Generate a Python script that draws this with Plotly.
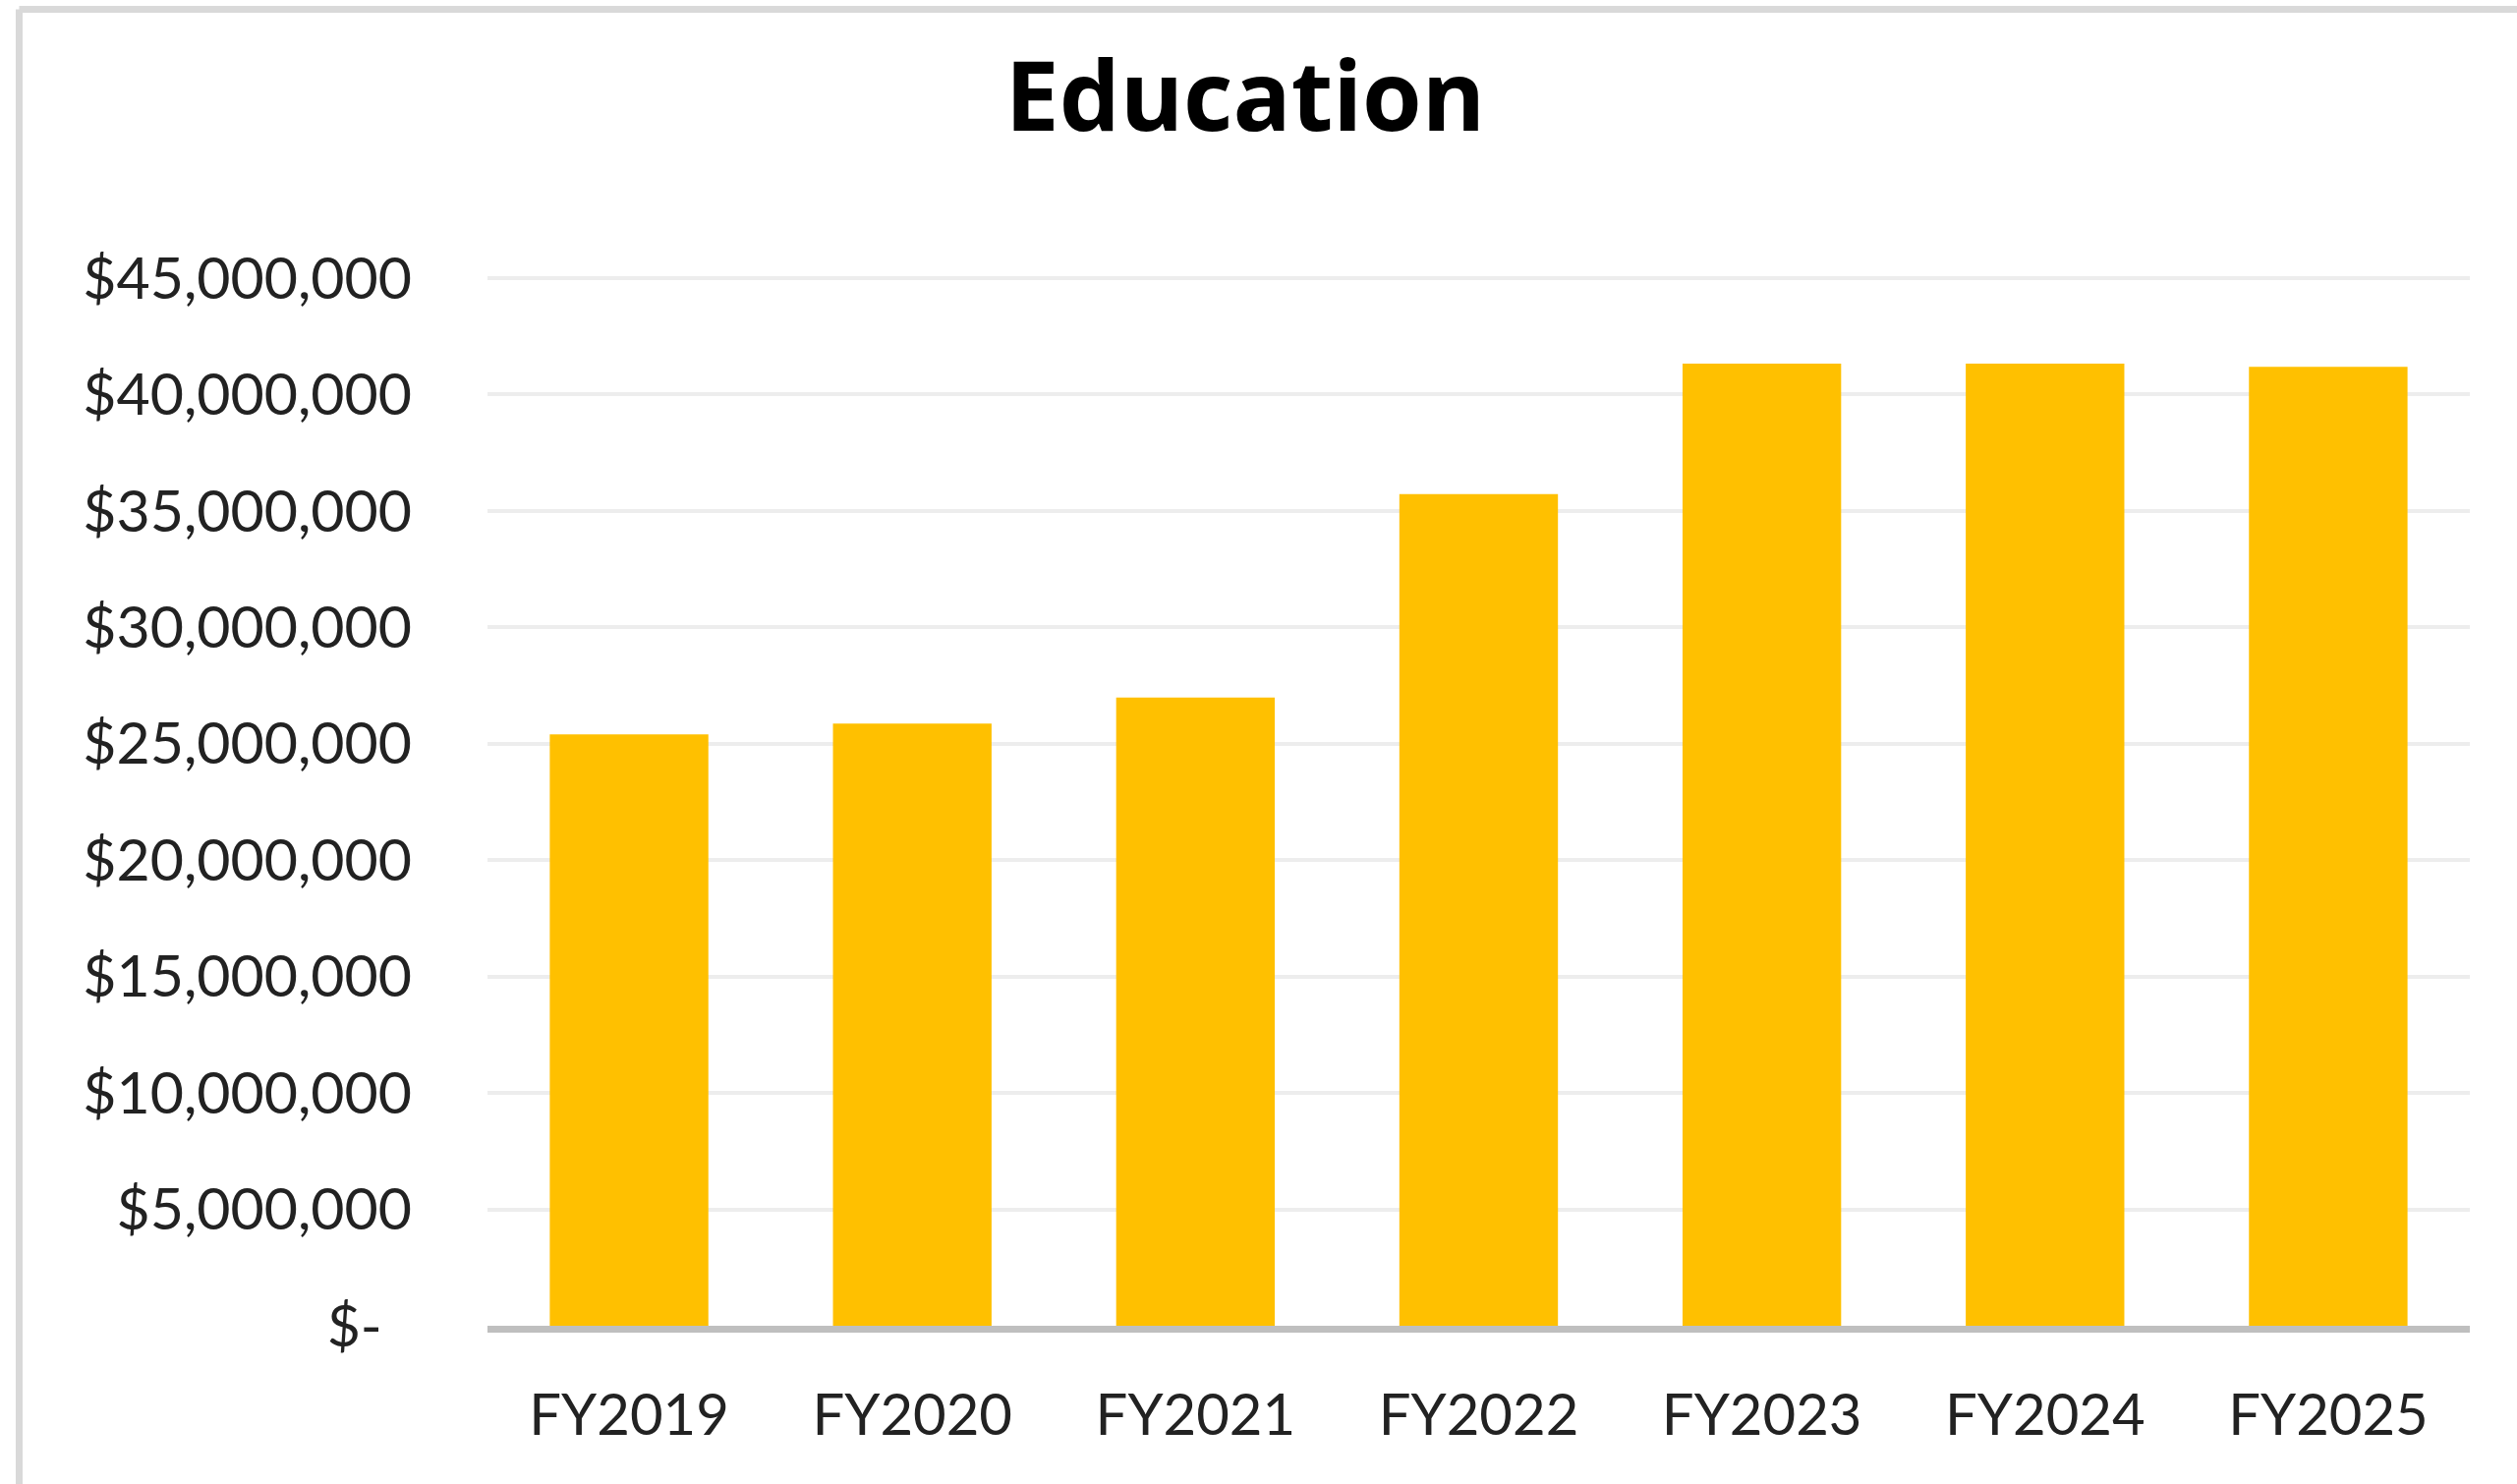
import plotly.graph_objects as go

# Education spending by fiscal year
years = ["FY2019", "FY2020", "FY2021", "FY2022", "FY2023", "FY2024", "FY2025"]
spending = [25_400_000, 25_870_000, 26_980_000, 35_720_000, 41_330_000, 41_330_000, 41_190_000]

tick_values = [0, 5e6, 10e6, 15e6, 20e6, 25e6, 30e6, 35e6, 40e6, 45e6]
tick_labels = ["$-\u00a0\u00a0", "$5,000,000", "$10,000,000", "$15,000,000", "$20,000,000",
               "$25,000,000", "$30,000,000", "$35,000,000", "$40,000,000", "$45,000,000"]

W, H = 2561, 1510
ML, MR, MT, MB = 496, 48, 276, 161
TOP_PAD = 7  # pixels of headroom above the top gridline so it is drawn

pw = W - ML - MR
ph = H - MT - MB
y_max = 45e6 * ph / (ph - TOP_PAD)

fig = go.Figure(
    go.Bar(
        x=years,
        y=spending,
        marker=dict(color="#FFC000", line=dict(width=0)),
        hoverinfo="x+y",
    )
)

# frame around the chart area (left and top edges)
def px_x(x):
    return (x - ML) / pw
def px_y(y):
    return (H - MB - y) / ph

fig.add_shape(type="line", xref="paper", yref="paper",
              x0=px_x(19.5), x1=px_x(W + 5), y0=px_y(9.5), y1=px_y(9.5),
              line=dict(color="#D9D9D9", width=7), layer="below")
fig.add_shape(type="line", xref="paper", yref="paper",
              x0=px_x(19.5), x1=px_x(19.5), y0=px_y(9.5), y1=px_y(H + 5),
              line=dict(color="#D9D9D9", width=7), layer="below")

fig.update_layout(
    width=W,
    height=H,
    margin=dict(l=ML, r=MR, t=MT, b=MB, pad=0),
    paper_bgcolor="white",
    plot_bgcolor="white",
    bargap=0.44,
    showlegend=False,
    font=dict(family="Lato, 'Open Sans', sans-serif", color="#222222"),
    title=dict(
        text="<b>Education</b>",
        x=1267 / W,
        xanchor="center",
        y=1 - 99 / H,
        yanchor="middle",
        yref="container",
        xref="container",
        font=dict(size=98, color="#000000", family="'Open Sans', Lato, sans-serif"),
    ),
    xaxis=dict(
        showline=True,
        linecolor="#BFBFBF",
        linewidth=7,
        showgrid=False,
        ticks="",
        tickfont=dict(size=58, color="#222222"),
        ticklabelstandoff=34,
        fixedrange=True,
    ),
    yaxis=dict(
        range=[0, y_max],
        tickmode="array",
        tickvals=tick_values,
        ticktext=tick_labels,
        showgrid=True,
        gridcolor="#EDEDED",
        gridwidth=4,
        zeroline=False,
        showline=False,
        ticks="",
        tickfont=dict(size=59, color="#222222"),
        ticklabelstandoff=76,
        fixedrange=True,
    ),
)

fig.write_html("out.html")
